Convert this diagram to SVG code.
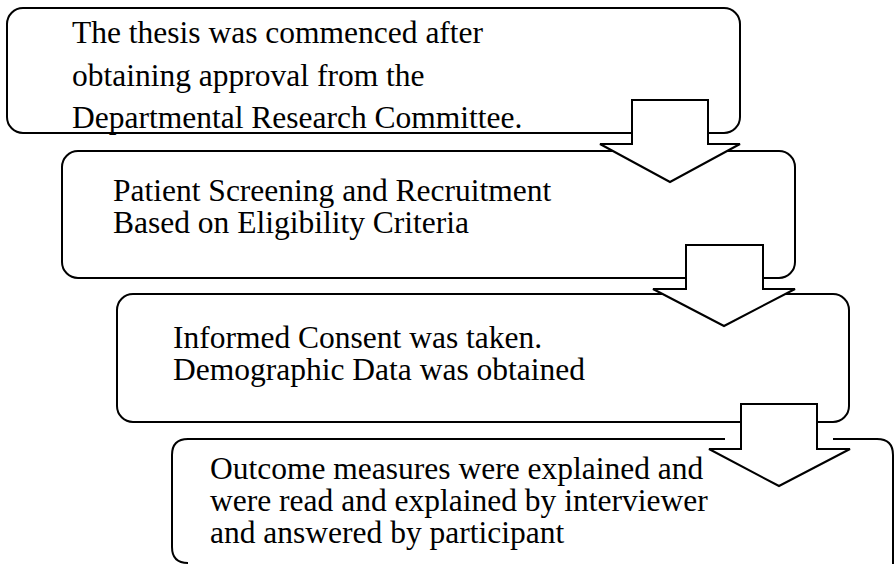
<svg xmlns="http://www.w3.org/2000/svg" width="894" height="564" viewBox="0 0 894 564">
<style>
.box{fill:#fff;stroke:#000;stroke-width:2}
.line{fill:none;stroke:#000;stroke-width:2}
.arr{fill:#fff;stroke:#000;stroke-width:2;stroke-linejoin:miter}
text{font-family:"Liberation Serif","Times New Roman",serif;font-size:31.5px;fill:#000}
</style>
<rect width="894" height="564" fill="#fff"/>
<g id="node1">
<rect class="box" x="7" y="8" width="733" height="125" rx="16"/>
<text x="72" y="43">The thesis was commenced after</text>
<text x="72" y="86">obtaining approval from the</text>
<text x="72" y="128">Departmental Research Committee.</text>
</g>
<g id="node2">
<rect class="box" x="62" y="151" width="733" height="127" rx="16"/>
<text x="113" y="201">Patient Screening and Recruitment</text>
<text x="113" y="233">Based on Eligibility Criteria</text>
</g>
<g id="node3">
<rect class="box" x="117" y="294" width="732" height="128" rx="16"/>
<text x="173" y="348">Informed Consent was taken.</text>
<text x="173" y="380">Demographic Data was obtained</text>
</g>
<g id="node4">
<path d="M172 564 V455 Q172 439 188 439 H877 Q893 439 893 455 V564 Z" fill="#fff" stroke="none"/>
<path class="line" d="M725 439 H188 Q172 439 172 455 V547 Q172 563 188 563"/>
<path class="line" d="M833 439 H877 Q893 439 893 455 V564"/>
<text x="210" y="479">Outcome measures were explained and</text>
<text x="210" y="511">were read and explained by interviewer</text>
<text x="210" y="543">and answered by participant</text>
</g>
<g id="connectors">
<path class="arr" d="M632 100 H708 V144 H740 L670 182 L600 144 H632 Z"/>
<path class="arr" d="M686 245 H763 V289 H795 L724 326 L653 289 H686 Z"/>
<path class="arr" d="M741 404 H817 V449 H850 L779 486 L709 449 H741 Z"/>
</g>
</svg>
